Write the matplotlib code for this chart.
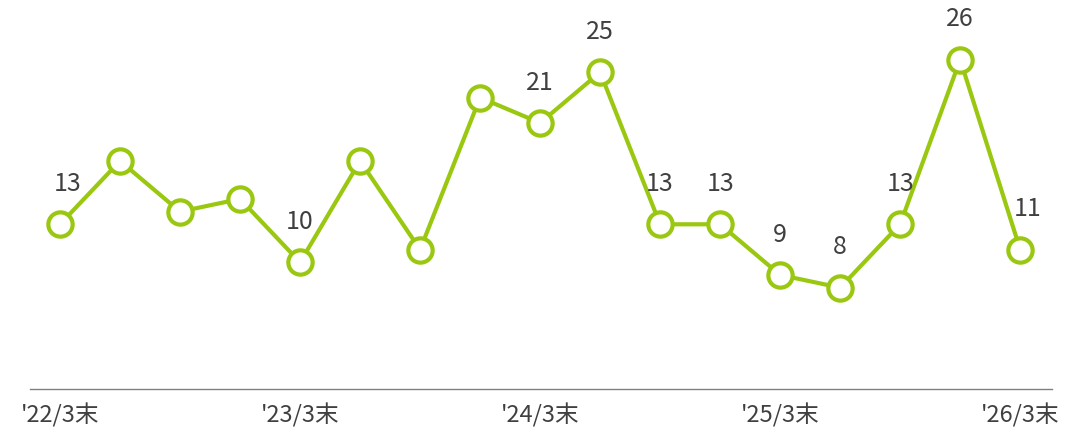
import matplotlib.pyplot as plt

plt.rcParams['font.family'] = ['Noto Sans CJK JP', 'DejaVu Sans']

values = [13, 18, 14, 15, 10, 18, 11, 23, 21, 25, 13, 13, 9, 8, 13, 26, 11]
labeled = [0, 4, 8, 9, 10, 11, 12, 13, 14, 15, 16]
tick_pos = [0, 4, 8, 12, 16]
tick_labels = ["'22/3末", "'23/3末", "'24/3末", "'25/3末", "'26/3末"]

green = '#9AC811'
text_color = '#404040'

fig = plt.figure(figsize=(10.86, 4.33), dpi=100)
ax = fig.add_axes((30 / 1086, 44 / 433, 1022 / 1086, 389 / 433))

x = list(range(len(values)))
ax.plot(x, values, color=green, lw=3, marker='o', ms=17.5, mew=3,
        mfc='white', mec=green, zorder=3, clip_on=False)

for i in labeled:
    dx = 0.12 if i in (0, 16) else 0
    ax.annotate(str(values[i]), (i, values[i]), xytext=(dx * 60 * 0.72, 29),
                textcoords='offset points', ha='center', va='center',
                fontsize=18, color=text_color)

ax.set_xlim(-0.5, 16.53)
ax.set_ylim(0, 389 / 12.67)
ax.set_xticks(tick_pos)
ax.set_xticklabels(tick_labels, fontsize=17, color=text_color)
ax.tick_params(axis='x', length=0, pad=10)
ax.set_yticks([])
for s in ['top', 'right', 'left']:
    ax.spines[s].set_visible(False)
ax.spines['bottom'].set_color('#808080')
ax.spines['bottom'].set_linewidth(1)

fig.savefig('out.png', dpi=100)
